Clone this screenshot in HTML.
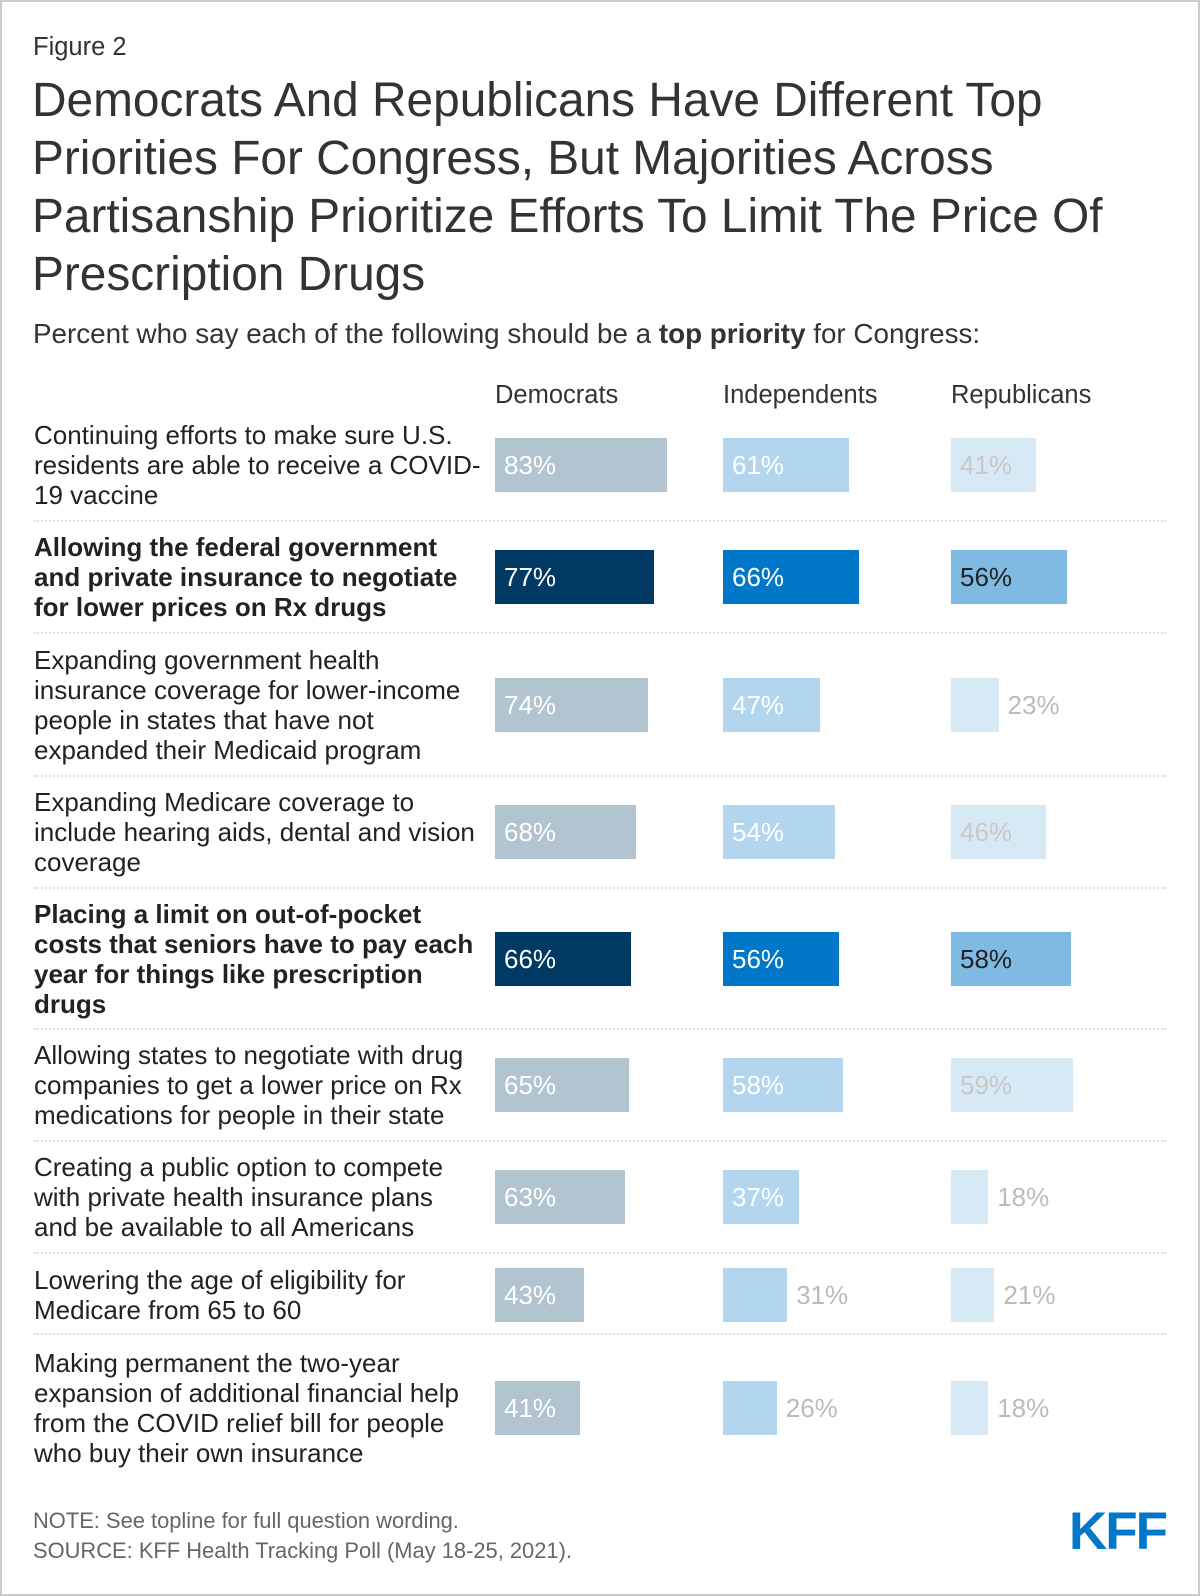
<!DOCTYPE html>
<html><head><meta charset="utf-8"><style>
body{margin:0;width:1200px;height:1596px;background:#fff;font-family:"Liberation Sans",sans-serif;color:#333;overflow:hidden}
#frame{position:absolute;left:0;top:0;width:1196px;height:1592px;border:2px solid #ccc}
.abs{position:absolute}
.row-label{position:absolute;left:34px;width:490px;font-size:26px;line-height:30px;color:#222;white-space:pre-line}
.bar{position:absolute;height:54px}
.val{position:absolute;font-size:26px;line-height:54px}
.sep{position:absolute;left:34px;width:1132px;border-top:2px dotted #ddd;height:0}
.col-h{position:absolute;top:381px;font-size:25.5px;color:#333}
</style></head><body>
<div id="frame"></div>
<div class="abs" style="left:33px;top:33px;font-size:25.5px">Figure 2</div>
<div class="abs" style="left:32px;top:72px;font-size:47.8px;line-height:58px;width:1160px;color:#333;white-space:nowrap">Democrats And Republicans Have Different Top<br>Priorities For Congress, But Majorities Across<br>Partisanship Prioritize Efforts To Limit The Price Of<br>Prescription Drugs</div>
<div class="abs" style="left:33px;top:318px;font-size:27.8px;white-space:nowrap">Percent who say each of the following should be a <b>top priority</b> for Congress:</div>
<div class="col-h" style="left:495px">Democrats</div>
<div class="col-h" style="left:723px">Independents</div>
<div class="col-h" style="left:951px">Republicans</div>
<div id="chart"></div>
<div class="abs" style="left:33px;top:1506px;font-size:21.9px;color:#666;line-height:29.5px">NOTE: See topline for full question wording.<br>SOURCE: KFF Health Tracking Poll (May 18-25, 2021).</div>
<div class="abs" style="left:1069px;top:1501px;font-size:53px;font-weight:bold;color:#0077c8;letter-spacing:-2px">KFF</div>
<script>
const categories=["Continuing efforts to make sure U.S.\nresidents are able to receive a COVID-\n19 vaccine","Allowing the federal government\nand private insurance to negotiate\nfor lower prices on Rx drugs","Expanding government health\ninsurance coverage for lower-income\npeople in states that have not\nexpanded their Medicaid program","Expanding Medicare coverage to\ninclude hearing aids, dental and vision\ncoverage","Placing a limit on out-of-pocket\ncosts that seniors have to pay each\nyear for things like prescription\ndrugs","Allowing states to negotiate with drug\ncompanies to get a lower price on Rx\nmedications for people in their state","Creating a public option to compete\nwith private health insurance plans\nand be available to all Americans","Lowering the age of eligibility for\nMedicare from 65 to 60","Making permanent the two-year\nexpansion of additional financial help\nfrom the COVID relief bill for people\nwho buy their own insurance"];
const highlighted=[false,true,false,false,true,false,false,false,false];
const democrats=[83,77,74,68,66,65,63,43,41];
const independents=[61,66,47,54,56,58,37,31,26];
const republicans=[41,56,23,46,58,59,18,21,18];
const rowCenters=[465,577,705,832,959,1085,1197,1295,1408];
const seps=[520,632,775,887,1028,1140,1252,1333];
const colX=[495,723,951];
const series=[democrats,independents,republicans];
const seriesNames=["democrats","independents","republicans"];
const light=["#b2c4d0","#b3d6ee","#d8e9f6"],dark=["#003a63","#0077c8","#7fbae3"];
const lightText=["#fff","#fff","#c8c8c8"],darkText=["#fff","#fff","#222"];
const x=v=>v*2.067;
const c=document.getElementById('chart');
categories.forEach((cat,i)=>{
  const l=document.createElement('div');
  l.className='row-label';
  
  
  l.textContent=cat;
  if(highlighted[i]){l.style.fontWeight='bold';}
  c.appendChild(l);
  l.style.top=(rowCenters[i])+'px';
  l.style.transform='translateY(-50%)';
  series.forEach((s,j)=>{
    const v=s[i];
    const b=document.createElement('div');
    b.className='bar';
    
    
    b.style.left=colX[j]+'px';b.style.top=(rowCenters[i]-27)+'px';
    b.style.width=x(v)+'px';
    b.style.background=highlighted[i]?dark[j]:light[j];
    c.appendChild(b);
    const t=document.createElement('div');
    t.className='val';
    
    
    t.textContent=v+'%';
    t.style.top=(rowCenters[i]-27)+'px';
    if(x(v)>70){t.style.left=(colX[j]+9)+'px';t.style.color=highlighted[i]?darkText[j]:lightText[j];}
    else{t.style.left=(colX[j]+x(v)+9)+'px';t.style.color='#bbb';}
    c.appendChild(t);
  });
});
seps.forEach(y=>{
  const s=document.createElement('div');
  s.className='sep';
  
  
  s.style.top=y+'px';
  c.appendChild(s);
});
</script>
</body></html>
